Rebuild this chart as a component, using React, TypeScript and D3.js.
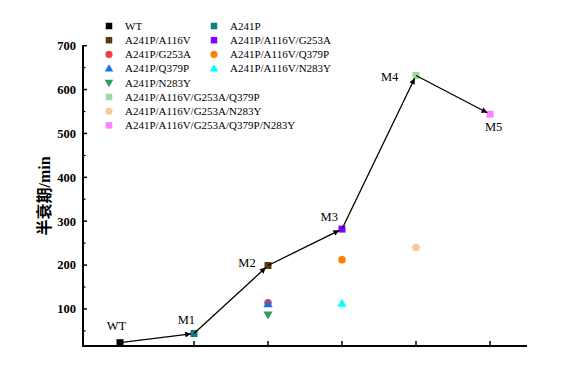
import React from "react";
import * as d3 from "d3";

const categories = ["WT", "M1", "M2", "M3", "M4", "M5"];
const pathValues = [23, 44, 199, 282, 632, 544];

const seriesNames = [
  "WT",
  "A241P",
  "A241P/A116V",
  "A241P/A116V/G253A",
  "A241P/G253A",
  "A241P/A116V/Q379P",
  "A241P/Q379P",
  "A241P/A116V/N283Y",
  "A241P/N283Y",
  "A241P/A116V/G253A/Q379P",
  "A241P/A116V/G253A/N283Y",
  "A241P/A116V/G253A/Q379P/N283Y",
];
const seriesCategory = [0, 1, 2, 3, 2, 3, 2, 3, 2, 4, 4, 5];
const seriesValues = [23, 44, 199, 282, 114, 212, 111, 112, 87, 632, 240, 544];
const seriesShapes = [
  "square", "square", "square", "square", "circle", "circle",
  "triUp", "triUp", "triDown", "square", "circle", "square",
];
const seriesColors = [
  "#000000", "#0f7f7f", "#5a3a0c", "#7f00ff", "#ee4040", "#ff8000",
  "#1f6fdf", "#00ffff", "#2e9e5e", "#a0d8a0", "#fcc898", "#ff80ff",
];
const yTicks = [100, 200, 300, 400, 500, 600, 700];
const yMinorTicks = [50, 150, 250, 350, 450, 550, 650];
const pointLabelOffsets: [number, number][] = [
  [-3.6, -12.7], [-7.6, -9.3], [-21, 1.7], [-12.7, -7.6], [-26.4, 5], [3.6, 17],
];

const W = 574, H = 379;
const left = 83, right = 527, top = 45.7, bottom = 346;

function Marker({ shape, color, x, y, s }: { shape: string; color: string; x: number; y: number; s: number }) {
  if (shape === "square") return <rect x={x - s / 2} y={y - s / 2} width={s} height={s} fill={color} />;
  if (shape === "circle") return <circle cx={x} cy={y} r={s / 2 + 0.3} fill={color} />;
  const sym = d3.symbol().type(d3.symbolTriangle).size(s * s * 0.75)();
  return <path d={sym || ""} transform={`translate(${x},${y + (shape === "triUp" ? 0.5 : -0.5)}) rotate(${shape === "triDown" ? 180 : 0})`} fill={color} />;
}

export default function App() {
  const x = d3.scaleLinear().domain([-0.5, categories.length - 0.5]).range([left, right]);
  const y = d3.scaleLinear().domain([15.5, 700]).range([bottom, top]);
  const serif = "'Liberation Serif', 'Times New Roman', serif";

  const pts = pathValues.map((v, i) => [x(i), y(v)] as [number, number]);
  const segs = pts.slice(1).map((p, i) => {
    const a = pts[i];
    const dx = p[0] - a[0], dy = p[1] - a[1];
    const len = Math.hypot(dx, dy);
    const shorten = 3;
    return [a, [p[0] - (dx / len) * shorten, p[1] - (dy / len) * shorten]] as [number, number][];
  });

  const legendItems = seriesNames.map((name, i) => {
    let col: number, row: number;
    if (i < 9) { col = i % 2; row = Math.floor(i / 2); }
    else { col = 0; row = i - 4; }
    return { name, i, col, row };
  });

  return (
    <svg width={W} height={H} style={{ position: "absolute", left: 0, top: 0, background: "#fff" }} fontFamily={serif}>
      <rect width={W} height={H} fill="#fff" />
      <defs>
        <marker id="arr" viewBox="0 0 10 10" refX="10" refY="5" markerWidth="5.5" markerHeight="4.5" markerUnits="strokeWidth" orient="auto">
          <path d="M0,0 L10,5 L0,10 z" fill="#000" />
        </marker>
      </defs>

      {/* axes */}
      <line x1={left} x2={left} y1={top - 0.5} y2={bottom + 1} stroke="#000" strokeWidth={2} />
      <line x1={left - 1} x2={right} y1={bottom} y2={bottom} stroke="#000" strokeWidth={2} />
      {yTicks.map((t) => (
        <g key={t}>
          <line x1={left} x2={left + 4} y1={y(t)} y2={y(t)} stroke="#000" strokeWidth={1.5} />
          <text x={left - 7} y={y(t)} dy="0.35em" textAnchor="end" fontSize={12.5} fontWeight="bold">{t}</text>
        </g>
      ))}
      {yMinorTicks.map((t) => (
        <line key={t} x1={left} x2={left + 2.5} y1={y(t)} y2={y(t)} stroke="#000" strokeWidth={1.2} />
      ))}
      {categories.map((c, i) => (
        <line key={c} x1={x(i)} x2={x(i)} y1={bottom} y2={bottom - 5} stroke="#000" strokeWidth={1.5} />
      ))}
      <text transform={`translate(50,${(top + bottom) / 2}) rotate(-90)`} textAnchor="middle" fontSize={16} fontWeight="bold">
        <tspan fontFamily="'Noto Sans CJK SC', sans-serif">半衰期</tspan>
        <tspan>/min</tspan>
      </text>

      {/* scatter markers */}
      {seriesNames.map((n, i) => (
        <Marker key={n} shape={seriesShapes[i]} color={seriesColors[i]} x={x(seriesCategory[i])} y={y(seriesValues[i])} s={7} />
      ))}

      {/* arrows */}
      {segs.map((s, i) => (
        <line key={i} x1={s[0][0]} y1={s[0][1]} x2={s[1][0]} y2={s[1][1]} stroke="#000" strokeWidth={1.3} markerEnd="url(#arr)" />
      ))}

      {/* point labels */}
      {categories.map((c, i) => (
        <text key={c} x={pts[i][0] + pointLabelOffsets[i][0]} y={pts[i][1] + pointLabelOffsets[i][1]} textAnchor="middle" fontSize={12.5}>{c}</text>
      ))}

      {/* legend */}
      {legendItems.map((it) => {
        const lx = 109 + it.col * 105;
        const ly = 26 + it.row * 14.2;
        return (
          <g key={it.name}>
            <Marker shape={seriesShapes[it.i]} color={seriesColors[it.i]} x={lx} y={ly} s={6.5} />
            <text x={lx + 16} y={ly} dy="0.35em" fontSize={11}>{it.name}</text>
          </g>
        );
      })}
    </svg>
  );
}
